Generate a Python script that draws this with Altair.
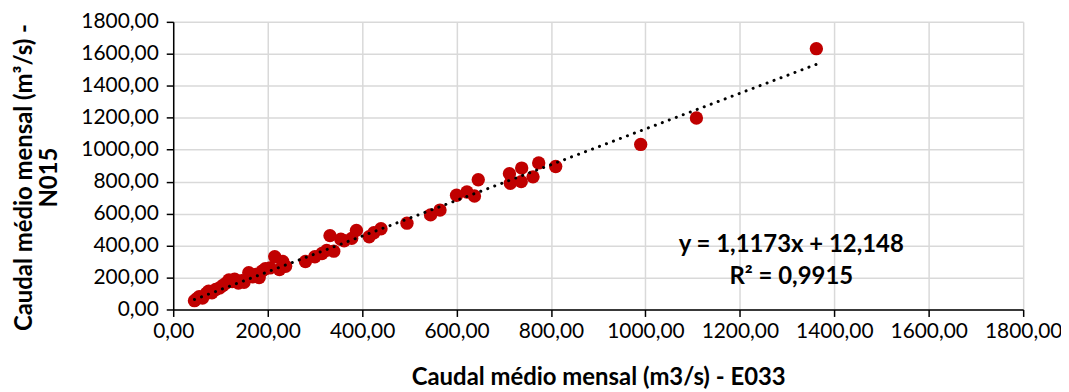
import altair as alt
import pandas as pd

# Caudal médio mensal (m3/s) - E033 (x) vs N015 (y)
e033 = [45, 50, 55, 62, 70, 75, 82, 90, 98, 105, 112, 118, 125, 130, 138, 145, 150,
        160, 168, 175, 182, 188, 195, 205, 215, 225, 232, 238,
        280, 300, 315, 325, 332, 340, 355, 362, 378, 388, 415, 425, 440, 495, 545, 565,
        600, 622, 638, 646, 712, 714, 738, 737, 762, 774, 810, 990, 1108, 1362]
n015 = [55, 68, 80, 72, 100, 115, 105, 125, 135, 150, 165, 185, 175, 190, 165, 180, 170,
        230, 205, 220, 200, 240, 255, 260, 330, 250, 300, 270,
        300, 330, 350, 370, 462, 365, 440, 430, 445, 495, 455, 480, 505, 540, 592, 622,
        715, 735, 710, 812, 850, 790, 885, 800, 830, 917, 895, 1033, 1198, 1632]

slope = 1.1173
intercept = 12.148
r2 = 0.9915
ticks = [0, 200, 400, 600, 800, 1000, 1200, 1400, 1600, 1800]

eq_text = "y = 1,1173x + 12,148"
r2_text = "R² = 0,9915"

df = pd.DataFrame({"x": e033, "y": n015})
xr = [min(e033), max(e033)]
trend = pd.DataFrame({"x": xr, "y": [slope * v + intercept for v in xr]})

FONT = "Lato"
fmt = "replace(format(datum.value, '.2f'), '.', ',')"

xscale = alt.Scale(domain=[0, 1800], nice=False, zero=True)
yscale = alt.Scale(domain=[0, 1800], nice=False, zero=True)

xaxis = alt.Axis(values=ticks, labelExpr=fmt, title="Caudal médio mensal (m3/s) - E033",
                 titleFontWeight="bold", titleFontSize=24, titleFont=FONT, titlePadding=24,
                 labelFont=FONT, labelFontSize=21, labelColor="#000000", titleColor="#000000",
                 labelOverlap=False, labelFlush=False,
                 domainColor="#000000", domainWidth=1.5, tickColor="#000000", tickSize=7,
                 tickWidth=1.5, labelPadding=4, grid=True, gridColor="#d9d9d9", gridWidth=1.5)
yaxis = alt.Axis(values=ticks, labelExpr=fmt,
                 title=["Caudal médio mensal (m³/s) -", "N015"],
                 titleFontWeight="bold", titleFontSize=24, titleFont=FONT,
                 titleAngle=-90, titleBaseline="middle", titleAlign="center",
                 titleX=-149, titleY=156, titleLineHeight=25,
                 labelFont=FONT, labelFontSize=21, labelColor="#000000", titleColor="#000000",
                 labelOverlap=False, labelFlush=False,
                 domainColor="#000000", domainWidth=1.5, tickColor="#000000", tickSize=7,
                 tickWidth=1.5, labelPadding=8, grid=True, gridColor="#d9d9d9", gridWidth=1.5)

points = alt.Chart(df).mark_circle(size=180, color="#C00000", opacity=1).encode(
    x=alt.X("x:Q", scale=xscale, axis=xaxis),
    y=alt.Y("y:Q", scale=yscale, axis=yaxis),
)

line = alt.Chart(trend).mark_line(color="#000000", strokeWidth=3, strokeDash=[0.1, 7.4],
                                  strokeCap="round").encode(
    x=alt.X("x:Q", scale=xscale, axis=xaxis),
    y=alt.Y("y:Q", scale=yscale, axis=yaxis),
)

t1 = alt.Chart(pd.DataFrame({"t": [eq_text]})).mark_text(
    font=FONT, fontSize=24, fontWeight="bold", color="#000000", baseline="middle", align="center"
).encode(text="t:N", x=alt.value(621), y=alt.value(224))

t2 = alt.Chart(pd.DataFrame({"t": [r2_text]})).mark_text(
    font=FONT, fontSize=24, fontWeight="bold", color="#000000", baseline="middle", align="center"
).encode(text="t:N", x=alt.value(621), y=alt.value(256))

chart = alt.layer(points, line, t1, t2).properties(
    width=854, height=289,
    autosize=alt.AutoSizeParams(type="none"),
    padding={"left": 166, "top": 13, "right": 38, "bottom": 82},
    background="#ffffff",
).configure_view(strokeWidth=0).configure_axis(labelOverlap=False, labelFlush=False)

chart.save("out.html", embed_options={"renderer": "svg", "actions": False})
